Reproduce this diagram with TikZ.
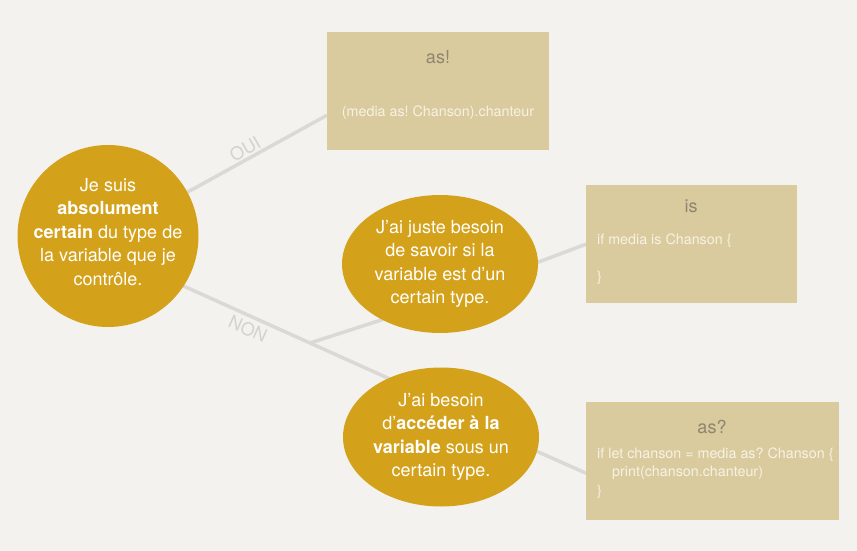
\documentclass[tikz,border=0pt]{standalone}
\usepackage{fontspec}
\setmainfont{TeX Gyre Heros}
\usepackage{xcolor}
\usetikzlibrary{shapes.geometric,backgrounds}
\definecolor{papier}{HTML}{F3F2EE}
\definecolor{ocre}{HTML}{D4A11B}
\definecolor{sable}{HTML}{D9CB9E}
\definecolor{taupe}{HTML}{8E8670}
\definecolor{creme}{HTML}{F7F2E3}
\definecolor{trait}{HTML}{DAD9D6}
\definecolor{pale}{HTML}{D3D2CF}
\frenchspacing

\begin{document}
\begin{tikzpicture}[x=1pt,y=-1pt,
  choix/.style={ellipse,fill=ocre,inner sep=0pt},
  question/.style={text=white,inner sep=0pt,align=center,font=\fontsize{18}{23.5}\selectfont},
  carte/.style={rectangle,fill=sable,inner sep=0pt,anchor=north west},
  titre/.style={text=taupe,inner sep=0pt,font=\fontsize{18}{22}\selectfont},
  code/.style={text=creme,inner sep=0pt,align=left,font=\fontsize{14.3}{18.5}\selectfont},
  lien/.style={draw=trait,line width=3.5pt},
  etiq/.style={text=pale,inner sep=0pt,font=\fontsize{18}{18}\selectfont}]
\useasboundingbox (0,0) rectangle (857,551);
% questions
\node[choix,minimum width=181,minimum height=182] (certain) at (108,236) {};
\node[question] (certain texte) at (108,232) {Je suis\\\textbf{absolument}\\\textbf{certain} du type de\\la variable que je\\contrôle.};
\node[choix,minimum width=196,minimum height=138] (juste) at (440,264) {};
\node[question] (juste texte) at (juste) {J’ai juste besoin\\de savoir si la\\variable est d’un\\certain type.};
\node[choix,minimum width=196,minimum height=139] (acces) at (441,437) {};
\node[question] (acces texte) at (acces) {J’ai besoin\\d’\textbf{accéder à la}\\\textbf{variable} sous un\\certain type.};
% reponses
\node[carte,minimum width=222,minimum height=118] (asbang) at (327,32) {};
\node[titre] (asbang titre) at (438,57) {as!};
\node[code] (asbang code) at (438,113) {(media as! Chanson).chanteur};
\node[carte,minimum width=211,minimum height=118] (is) at (586,185) {};
\node[titre] (is titre) at (691,206) {is};
\node[code,anchor=west] (is code) at (597,259) {if media is Chanson \{\\ \\\}};
\node[carte,minimum width=253,minimum height=118] (asq) at (586,402) {};
\node[titre] (asq titre) at (712,427) {as?};
\node[code,anchor=west] (asq code) at (597,473) {if let chanson = media as? Chanson \{\\\hspace*{15pt}print(chanson.chanteur)\\\}};
% OUI / NON
\node[etiq,rotate=30] (oui) at (245,149) {OUI};
\node[etiq,rotate=-24] (non) at (248,329) {NON};
\begin{pgfonlayer}{background}
\fill[papier] (0,0) rectangle (857,551);
\coordinate (oui bout) at ([yshift=-24pt]asbang.west);
\coordinate (non depart) at ([yshift=-16pt]certain.center);
\coordinate (fourche) at (310,343);
\coordinate (non bout) at (441,402);
\coordinate (juste bout) at ([yshift=-37pt]juste.center);
\coordinate (juste depart) at ([shift={(40pt,-20pt)}]juste.center);
\coordinate (acces depart) at ([shift={(39pt,11pt)}]acces.center);
\draw[lien] (certain) -- (oui bout);
\draw[lien] (non depart) -- (fourche) -- (non bout);
\draw[lien] (fourche) -- (juste bout);
\draw[lien] (juste depart) -- (is.west);
\draw[lien] (acces depart) -- ([yshift=-12pt]asq.west);
\end{pgfonlayer}
\end{tikzpicture}
\end{document}
